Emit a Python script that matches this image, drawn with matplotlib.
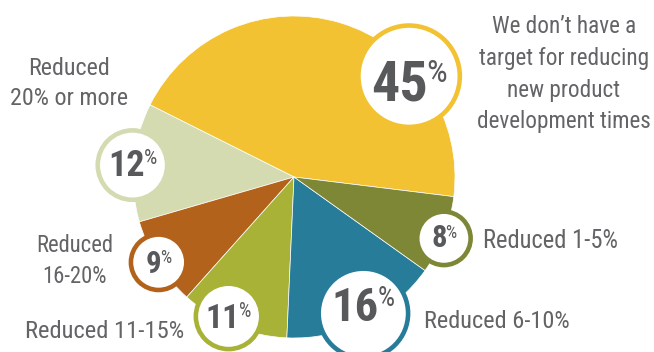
import numpy as np
import matplotlib
matplotlib.use("Agg")
import matplotlib.pyplot as plt
from matplotlib import font_manager as fm
from matplotlib.patches import Circle

# data
categories = ["No target", "Reduced 20% or more", "Reduced 16-20%",
              "Reduced 11-15%", "Reduced 6-10%", "Reduced 1-5%"]
shares = [45, 12, 9, 11, 16, 8]
colors = ['#f2c232', '#d4dbb0', '#b3621b', '#a8b237', '#277d99', '#7d8736']
label_texts = ["We don\u2019t have a\ntarget for reducing\nnew product\ndevelopment times",
               "Reduced\n20% or more", "Reduced\n16-20%", "Reduced 11-15%",
               "Reduced 6-10%", "Reduced 1-5%"]

# layout (pixels from the top-left corner)
W, H = 654, 352
center = (294, 177)
radius = 161
badge_size = [53, 37, 30, 35, 47, 29]
badge_dist = [153, 162, 160, 154, 153, 162]
badge_turn = [-32, 1, 0, -3, 1, -1]
badge_width = [76, 49, 26, 46, 63, 26]      # width of "NN%" inside each badge
num_dy = [4, -2, 0, -1, -9, -2]
label_x = [564, 69, 75, 105, 424, 483]
label_base = [[33, 65, 97, 128], [75, 105], [252, 283], [338], [328], [248]]
label_width = [174, 118, 77, 159, 146, 135]
label_ha = ['center', 'center', 'center', 'center', 'left', 'left']

text_gray = '#636466'
num_gray = '#58595b'
pct_ratio = 0.58


def weight_num(w):
    return w if isinstance(w, (int, float)) else fm.weight_dict.get(w, 400)


def pick_condensed():
    # look for a narrow / condensed sans with both a regular and a bold file
    fams = {}
    for f in fm.fontManager.ttflist:
        narrow = ('condensed' in str(f.stretch) and 'extra' not in str(f.stretch)) \
            or 'Narrow' in f.name or ('Condensed' in f.name and 'Extra' not in f.name)
        if not narrow or f.style != 'normal':
            continue
        fams.setdefault(f.name, []).append(f)
    order = ['Roboto', 'Liberation', 'Noto Sans', 'DejaVu', 'Open Sans']
    for key in order:
        for name, files in fams.items():
            if key in name and 'Mono' not in name and 'Serif' not in name:
                reg = min(files, key=lambda f: abs(weight_num(f.weight) - 400))
                bold = min(files, key=lambda f: abs(weight_num(f.weight) - 700))
                return fm.FontProperties(fname=reg.fname), fm.FontProperties(fname=bold.fname)
    return fm.FontProperties(family='Roboto'), fm.FontProperties(family='Roboto', weight='bold')


font_reg, font_bold = pick_condensed()

fig = plt.figure(figsize=(W / 100, H / 100), dpi=100)
ax = fig.add_axes([0, 0, 1, 1])

wedges, _ = ax.pie(shares, colors=colors, startangle=-7, counterclock=True,
                   radius=radius, center=(center[0], H - center[1]),
                   wedgeprops=dict(edgecolor='white', linewidth=0.5))
ax.set_xlim(0, W)
ax.set_ylim(0, H)
ax.set_aspect('equal')
ax.axis('off')

renderer = fig.canvas.get_renderer()


def width_of(t):
    return t.get_window_extent(renderer).width


# badges with the percentage
for i, w in enumerate(wedges):
    ang = np.deg2rad((w.theta1 + w.theta2) / 2 + badge_turn[i])
    cx = center[0] + badge_dist[i] * np.cos(ang)
    cy = (H - center[1]) + badge_dist[i] * np.sin(ang)
    ax.add_patch(Circle((cx, cy), badge_size[i] - 2.3, facecolor='white',
                        edgecolor=colors[i], linewidth=3.3, zorder=3))

    t_num = ax.text(cx, cy, str(shares[i]), fontproperties=font_bold, fontsize=30,
                    color=num_gray, ha='left', va='baseline', zorder=4)
    t_pct = ax.text(cx, cy, '%', fontproperties=font_reg, fontsize=30 * pct_ratio,
                    color=num_gray, ha='left', va='baseline', zorder=4)
    size = 30 * badge_width[i] / (width_of(t_num) + width_of(t_pct) - 1)
    t_num.set_fontsize(size)
    t_pct.set_fontsize(size * pct_ratio)
    wn, wp = width_of(t_num), width_of(t_pct)
    em = size * 100 / 72
    base = cy - num_dy[i] - 0.36 * em
    x0 = cx - (wn + wp - 1) / 2
    t_num.set_position((x0, base))
    t_pct.set_position((x0 + wn - 1, base + 0.72 * em * (1 - pct_ratio) + 0.02 * em))

# category labels, one text per line
for i, txt in enumerate(label_texts):
    lines = txt.split('\n')
    probe = [ax.text(0, 0, ln, fontproperties=font_reg, fontsize=18) for ln in lines]
    widest = max(width_of(p) for p in probe)
    for p in probe:
        p.remove()
    size = min(18, 18 * label_width[i] / widest)
    for ln, yb in zip(lines, label_base[i]):
        ax.text(label_x[i], H - yb, ln, fontproperties=font_reg, fontsize=size,
                color=text_gray, ha=label_ha[i], va='baseline')

fig.savefig('out.png', dpi=100)
